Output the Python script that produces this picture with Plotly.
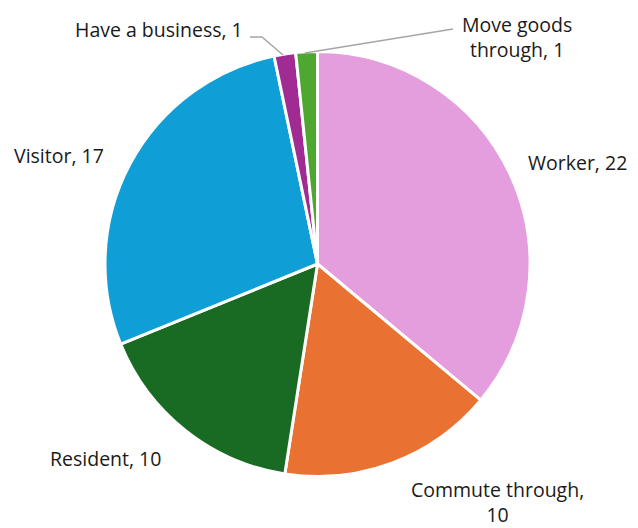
import plotly.graph_objects as go

categories = ["Worker", "Commute through", "Resident", "Visitor", "Have a business", "Move goods through"]
values = [22, 10, 10, 17, 1, 1]
colors = ["#E49EDD", "#E97132", "#196B24", "#0F9ED5", "#A02B93", "#4EA72E"]

# page body has an 8px margin; figure occupies the rest of the 638x528 window
OFF = 8
W, H = 638 - OFF, 528 - OFF

def px(x):
    return (x - OFF) / W

def py(y):
    return 1 - (y - OFF) / H

fig = go.Figure(go.Pie(
    labels=categories, values=values, sort=False, direction="clockwise", rotation=0,
    marker=dict(colors=colors, line=dict(color="white", width=3)),
    textinfo="none", hoverinfo="label+value",
    domain=dict(x=[px(105), px(530)], y=[py(477), py(51)]),
    showlegend=False,
))

label_pos = {
    "Worker": (526, 162, "left", False),
    "Commute through": (497, 502, "center", True),
    "Resident": (48, 458, "left", False),
    "Visitor": (12, 155, "left", False),
    "Have a business": (245, 30, "right", False),
    "Move goods through": (517, 37, "center", True),
}
annotations = []
for cat, val in zip(categories, values):
    x, y, anchor, wrap = label_pos[cat]
    if wrap:
        if cat == "Move goods through":
            txt = f"Move goods<br>through, {val}"
        else:
            txt = f"{cat},<br>{val}"
    else:
        txt = f"{cat}, {val}"
    annotations.append(dict(
        x=px(x), y=py(y), xref="paper", yref="paper", text=txt, showarrow=False,
        xanchor=anchor, yanchor="middle", align="center",
        font=dict(family="Open Sans, Noto Sans, sans-serif", size=19.5, color="#1A1A1A"),
    ))

def seg(pts):
    path = "M " + " L ".join(f"{px(a)},{py(b)}" for a, b in pts)
    return dict(type="path", xref="paper", yref="paper", path=path,
                line=dict(color="#A6A6A6", width=1.5))

shapes = [
    seg([(250, 37), (262, 37), (283, 55)]),
    seg([(305, 53), (453, 29)]),
]

fig.update_layout(
    width=W, height=H, margin=dict(l=0, r=0, t=0, b=0),
    paper_bgcolor="white", plot_bgcolor="white",
    annotations=annotations, shapes=shapes,
)
fig.write_html("out.html")
